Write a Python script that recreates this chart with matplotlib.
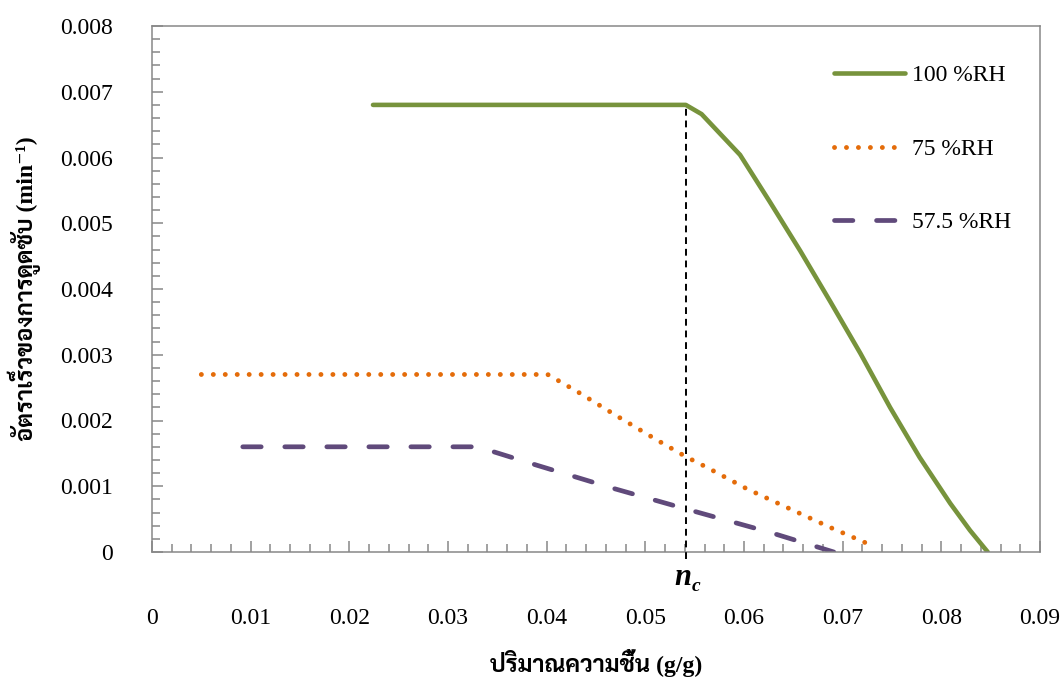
import matplotlib

matplotlib.use("Agg")
import matplotlib.pyplot as plt
from matplotlib import font_manager
from matplotlib.ft2font import FT2Font
from matplotlib.ticker import MultipleLocator

# moisture content (g/g) and adsorption rate (1/min) for each relative humidity
moisture_100 = [0.0224, 0.0541, 0.0557, 0.0596, 0.0626, 0.0657, 0.0687, 0.0718,
                0.0748, 0.0778, 0.0809, 0.0829, 0.0847]
rate_100 = [0.0068, 0.0068, 0.00666, 0.00604, 0.00533, 0.00458, 0.00382, 0.00302,
            0.00220, 0.00144, 0.00074, 0.00033, 0.0]

moisture_75 = [0.0050, 0.0401, 0.0431, 0.0471, 0.0511, 0.0541, 0.0562, 0.0603,
               0.0646, 0.0688, 0.0731]
rate_75 = [0.0027, 0.0027, 0.00244, 0.00207, 0.00171, 0.00145, 0.00129, 0.00096,
           0.00066, 0.00037, 0.00009]

moisture_575 = [0.0092, 0.0330, 0.0390, 0.0467, 0.0547, 0.0626, 0.0691]
rate_575 = [0.0016, 0.0016, 0.00132, 0.00097, 0.00063, 0.00030, 0.0]

labels = ["100 %RH", "75 %RH", "57.5 %RH"]
nc = 0.0541

x_ticks = [0, 0.01, 0.02, 0.03, 0.04, 0.05, 0.06, 0.07, 0.08, 0.09]
x_tick_labels = ["0", "0.01", "0.02", "0.03", "0.04", "0.05", "0.06", "0.07", "0.08", "0.09"]
y_ticks = [0, 0.001, 0.002, 0.003, 0.004, 0.005, 0.006, 0.007, 0.008]
y_tick_labels = ["0", "0.001", "0.002", "0.003", "0.004", "0.005", "0.006", "0.007", "0.008"]


def thai_font():
    # installed family with Thai glyphs and a bold face, looped styles first
    found, bold = [], set()
    for f in font_manager.fontManager.ttflist:
        try:
            cmap = FT2Font(f.fname).get_charmap()
        except Exception:
            continue
        if 0x0E1B not in cmap:
            continue
        if f.name not in found:
            found.append(f.name)
        w = f.weight if isinstance(f.weight, int) else font_manager.weight_dict.get(f.weight, 400)
        if w >= 600:
            bold.add(f.name)
    for name in ["Sarabun", "Maitree", "Noto Sans Thai Looped", "IBM Plex Sans Thai Looped",
                 "Noto Serif Thai", "Niramit"]:
        if name in bold:
            return [name]
    return [n for n in found if n in bold][:1] or found[:1]


serif = "Liberation Serif"
text_family = [serif] + thai_font() + ["DejaVu Serif"]
frame_color = "#878787"

fig = plt.figure(figsize=(10.63, 6.8), dpi=100)
ax = fig.add_axes([152 / 1063, 1 - 552 / 680, 888 / 1063, 526 / 680])

ax.plot(moisture_100, rate_100, color="#77933C", lw=3.3, label=labels[0],
        solid_capstyle="round")
ax.plot(moisture_75, rate_75, color="#E46C0A", lw=3.5, label=labels[1],
        dashes=(0.01, 2.45), dash_capstyle="round")
ax.plot(moisture_575, rate_575, color="#604A7B", lw=3.4, label=labels[2],
        dashes=(3.9, 5.0), dash_capstyle="round")
ax.vlines(nc, -0.0001, rate_100[1], colors="black", lw=1.4,
          linestyles=(0, (3.5, 2.5)), zorder=5, clip_on=False)

ax.set_xlim(0, 0.09)
ax.set_ylim(0, 0.008)
ax.set_xticks(x_ticks)
ax.set_xticklabels(x_tick_labels)
ax.set_yticks(y_ticks)
ax.set_yticklabels(y_tick_labels)
ax.xaxis.set_minor_locator(MultipleLocator(0.002))
ax.yaxis.set_minor_locator(MultipleLocator(0.0002))

for spine in ax.spines.values():
    spine.set_color(frame_color)
    spine.set_linewidth(1.1)
ax.tick_params(which="both", direction="in", color=frame_color, width=1.1,
               top=False, right=False)
ax.tick_params(which="major", length=8)
ax.tick_params(which="minor", length=5.5)
ax.tick_params(axis="x", which="major", pad=40)
ax.tick_params(axis="y", which="major", pad=28)
for lab in ax.get_xticklabels() + ax.get_yticklabels():
    lab.set_family(serif)
    lab.set_fontsize(17)

ax.annotate("n", xy=(nc, 0), xytext=(-1.8, -18.7), textcoords="offset points",
            ha="center", va="center", fontsize=22, fontweight="bold",
            style="italic", family=serif, annotation_clip=False)
ax.annotate("c", xy=(nc, 0), xytext=(7.6, -24.8), textcoords="offset points",
            ha="center", va="center", fontsize=14, fontweight="bold",
            style="italic", family=serif, annotation_clip=False)

ax.set_xlabel("ปริมาณความชื้น (g/g)", family=text_family, fontsize=17,
              fontweight="bold", labelpad=15)
ax.set_ylabel("อัตราเร็วของการดูดซับ (min⁻¹)", family=text_family, fontsize=17,
              fontweight="bold", labelpad=14)

ax.legend(loc="upper left", bbox_to_anchor=(0.768, 0.926), frameon=False,
          handlelength=3.0, handletextpad=0.3, labelspacing=2.2,
          borderpad=0, borderaxespad=0, prop={"family": serif, "size": 17})

fig.savefig("out.png", dpi=100)
